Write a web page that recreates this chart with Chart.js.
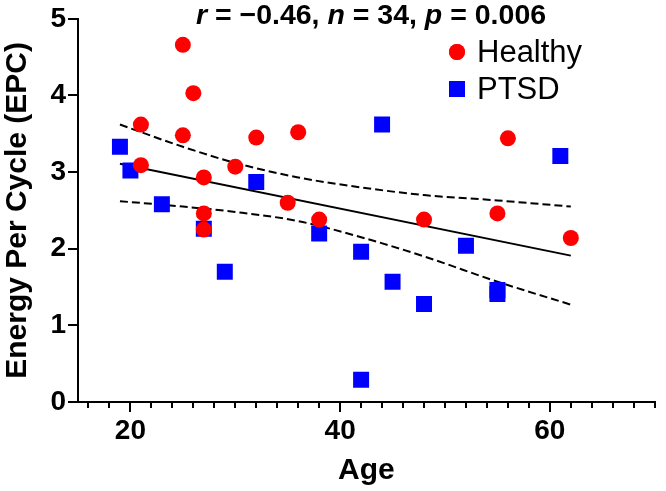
<!DOCTYPE html>
<html>
<head>
<meta charset="utf-8">
<script src="https://cdn.jsdelivr.net/npm/chart.js@4.4.0/dist/chart.umd.min.js"></script>
<style>
  html, body { margin: 0; padding: 0; background: #fff; }
  #wrap { width: 666px; height: 491px; position: relative; }
</style>
</head>
<body>
<div id="wrap"><canvas id="epcChart"></canvas></div>
<script>
// values
const healthyAge = [25, 26, 21, 25, 32, 36, 21, 30, 27, 35, 38, 27, 27, 48, 55, 62, 56];
const healthyEpc = [4.66, 4.03, 3.62, 3.48, 3.45, 3.52, 3.09, 3.07, 2.93, 2.60, 2.38, 2.46, 2.25, 2.38, 2.46, 2.14, 3.44];
const ptsdAge = [19, 20, 32, 23, 27, 29, 38, 42, 42, 52, 45, 48, 55, 55, 44, 61];
const ptsdEpc = [3.33, 3.02, 2.87, 2.58, 2.26, 1.70, 2.20, 1.96, 0.29, 2.04, 1.57, 1.28, 1.46, 1.41, 3.62, 3.21];
const fitAge = [19, 62];
const fitEpc = [3.11, 1.91];
const bandAge = [19, 25, 30, 36, 42, 48, 55, 62];
const upperBand = [3.62, 3.33, 3.12, 2.93, 2.80, 2.70, 2.63, 2.55];
const lowerBand = [2.62, 2.55, 2.48, 2.36, 2.15, 1.90, 1.57, 1.27];
const xMajorTicks = [20, 40, 60];
const yTicks = [0, 1, 2, 3, 4, 5];
const statsText = [['r', true], [' = \u22120.46, ', false], ['n', true], [' = 34, ', false], ['p', true], [' = 0.006', false]];
const legendLabels = ['Healthy', 'PTSD'];

const FONT = "'Liberation Sans', Arial, Helvetica, sans-serif";

function toPoints(xs, ys) {
    return xs.map((x, i) => ({ x: x, y: ys[i] }));
}

// draws longer major ticks, the stats line and the legend
const extrasPlugin = {
    id: 'extras',
    afterDraw(chart) {
        const ctx = chart.ctx;
        const xScale = chart.scales.x;
        const yScale = chart.scales.y;
        const axisY = yScale.getPixelForValue(0);

        ctx.save();
        ctx.strokeStyle = '#000';
        ctx.lineWidth = 2;
        xMajorTicks.forEach(v => {
            const px = Math.round(xScale.getPixelForValue(v));
            ctx.beginPath();
            ctx.moveTo(px, axisY);
            ctx.lineTo(px, axisY + 10);
            ctx.stroke();
        });

        // stats line at the top
        ctx.fillStyle = '#000';
        ctx.textBaseline = 'alphabetic';
        let total = 0;
        statsText.forEach(([t, it]) => {
            ctx.font = (it ? 'italic ' : '') + 'bold 28.5px ' + FONT;
            total += ctx.measureText(t).width;
        });
        let x = 371 - total / 2;
        statsText.forEach(([t, it]) => {
            ctx.font = (it ? 'italic ' : '') + 'bold 28.5px ' + FONT;
            ctx.fillText(t, x, 24);
            x += ctx.measureText(t).width;
        });

        // legend
        const styles = ['circle', 'rect'];
        const colors = ['#ff0000', '#0000ff'];
        const rows = [52, 89];
        ctx.font = '31px ' + FONT;
        ctx.textBaseline = 'middle';
        legendLabels.forEach((label, i) => {
            ctx.fillStyle = colors[i];
            Chart.helpers.drawPoint(ctx, { pointStyle: styles[i], radius: i === 0 ? 8 : 11.3, borderWidth: 0, rotation: 0 }, 457, rows[i]);
            ctx.fill();
            ctx.fillStyle = '#000';
            ctx.fillText(label, 477, rows[i] + 1);
        });
        ctx.restore();
    }
};

const ctx = document.getElementById('epcChart').getContext('2d');
const epcChart = new Chart(ctx, {
    type: 'scatter',
    data: {
        datasets: [
            {
                label: 'Healthy',
                data: toPoints(healthyAge, healthyEpc),
                pointStyle: 'circle',
                pointRadius: 8,
                backgroundColor: '#ff0000',
                borderWidth: 0
            },
            {
                label: 'PTSD',
                data: toPoints(ptsdAge, ptsdEpc),
                pointStyle: 'rect',
                pointRadius: 11.3,
                backgroundColor: '#0000ff',
                borderWidth: 0
            },
            {
                label: 'Fit',
                data: toPoints(fitAge, fitEpc),
                showLine: true,
                pointRadius: 0,
                borderColor: '#000',
                borderWidth: 2
            },
            {
                label: 'Upper 95% CI',
                data: toPoints(bandAge, upperBand),
                showLine: true,
                pointRadius: 0,
                borderColor: '#000',
                borderWidth: 2,
                borderDash: [8, 4],
                cubicInterpolationMode: 'monotone'
            },
            {
                label: 'Lower 95% CI',
                data: toPoints(bandAge, lowerBand),
                showLine: true,
                pointRadius: 0,
                borderColor: '#000',
                borderWidth: 2,
                borderDash: [8, 4],
                cubicInterpolationMode: 'monotone'
            }
        ]
    },
    options: {
        responsive: true,
        maintainAspectRatio: false,
        animation: false,
        layout: { padding: { top: 11, right: 3, left: 0, bottom: 0 } },
        plugins: {
            legend: { display: false },
            tooltip: { enabled: false }
        },
        scales: {
            x: {
                type: 'linear',
                min: 15,
                max: 70,
                afterBuildTicks: function (scale) {
                    const t = [];
                    for (let v = 16; v <= 70; v += 2) t.push({ value: v });
                    scale.ticks = t;
                },
                afterFit: function (scale) { scale.height = 89; },
                grid: { drawOnChartArea: false, tickLength: 6, color: '#000', lineWidth: 2 },
                border: { color: '#000', width: 2 },
                ticks: {
                    color: '#000',
                    padding: 6,
                    autoSkip: false,
                    maxRotation: 0,
                    font: { family: FONT, size: 28, weight: 'bold' },
                    callback: function (value) {
                        return xMajorTicks.includes(value) ? String(value) : '';
                    }
                },
                title: {
                    display: true,
                    text: 'Age',
                    color: '#000',
                    font: { family: FONT, size: 30, weight: 'bold' },
                    padding: { top: 0, bottom: 2 }
                }
            },
            y: {
                type: 'linear',
                min: 0,
                max: 5,
                afterBuildTicks: function (scale) {
                    scale.ticks = yTicks.map(v => ({ value: v }));
                },
                afterFit: function (scale) { scale.width = 78; },
                grid: { drawOnChartArea: false, tickLength: 10, color: '#000', lineWidth: 2 },
                border: { color: '#000', width: 2 },
                ticks: {
                    color: '#000',
                    padding: 2,
                    font: { family: FONT, size: 28, weight: 'bold' }
                },
                title: {
                    display: true,
                    text: 'Energy Per Cycle (EPC)',
                    color: '#000',
                    font: { family: FONT, size: 30, weight: 'bold' },
                    padding: { top: 0, bottom: 0 }
                }
            }
        }
    },
    plugins: [extrasPlugin]
});
</script>
</body>
</html>
